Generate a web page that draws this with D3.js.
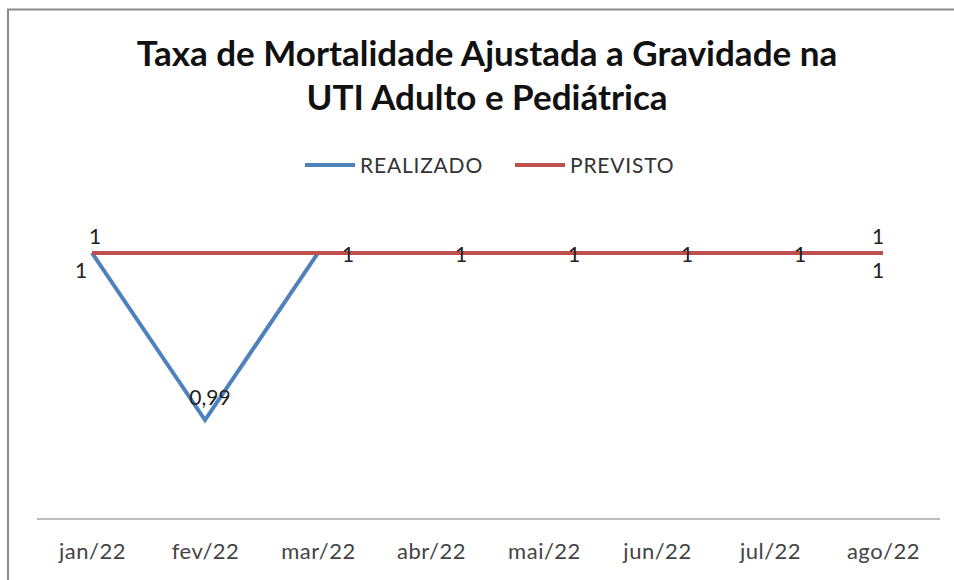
<!DOCTYPE html>
<html>
<head>
<meta charset="utf-8">
<script src="https://cdn.jsdelivr.net/npm/d3@7"></script>
<style>
  body { margin: 0; background: #fff; overflow: hidden; }
  svg { display: block; font-family: Lato, "Open Sans", sans-serif; }
</style>
</head>
<body>
<svg id="chart"></svg>
<script>
const months = ["jan/22", "fev/22", "mar/22", "abr/22", "mai/22", "jun/22", "jul/22", "ago/22"];
const realizado = [1, 0.99, 1, 1, 1, 1, 1, 1];
const previsto = [1, 1, 1, 1, 1, 1, 1, 1];
const titleLines = ["Taxa de Mortalidade Ajustada a Gravidade na", "UTI Adulto e Pediátrica"];

const width = 954;
const height = 580;
const blue = "#4f81bd";
const red = "#c0504d";

const svg = d3.select("#chart").attr("width", width).attr("height", height);

// chart frame (only left/top edges fall inside the picture)
svg.append("path")
  .attr("d", `M8,${height} V9.5 H${width}`)
  .attr("fill", "none")
  .attr("stroke", "#8c8c8c")
  .attr("stroke-width", 2);

const x = d3.scalePoint().domain(months).range([92, 883]);
const y = d3.scaleLinear().domain([0.99, 1]).range([420, 253]);

// title
svg.append("g").selectAll("text")
  .data(titleLines)
  .join("text")
  .attr("x", 487)
  .attr("y", (d, i) => 66 + i * 44)
  .attr("text-anchor", "middle")
  .style("font-size", "35px")
  .style("font-weight", "bold")
  .style("fill", "#111")
  .text(d => d);

// legend
const legend = [
  { name: "REALIZADO", color: blue, x: 305 },
  { name: "PREVISTO", color: red, x: 515 }
];
const lg = svg.append("g").selectAll("g").data(legend).join("g")
  .attr("transform", d => `translate(${d.x}, 165)`);
lg.append("line").attr("x1", 0).attr("x2", 50)
  .attr("stroke", d => d.color).attr("stroke-width", 4);
lg.append("text").attr("x", 55).attr("dy", "0.36em")
  .style("font-size", "21px").style("letter-spacing", "0.8px").style("fill", "#333")
  .text(d => d.name);

// x axis
const xAxis = d3.axisBottom(x).tickSize(0).tickPadding(24);
const ax = svg.append("g").attr("transform", "translate(0, 519)").call(xAxis);
ax.select(".domain").remove();
ax.append("line").attr("x1", 37).attr("x2", 940)
  .attr("stroke", "#bdbdbd").attr("stroke-width", 2);
ax.selectAll(".tick text")
  .style("font-size", "22px")
  .style("letter-spacing", "0.5px")
  .style("font-family", "Lato, sans-serif")
  .style("fill", "#444");

const line = d3.line().x((d, i) => x(months[i])).y(d => y(d));

svg.append("path").datum(realizado)
  .attr("d", line).attr("fill", "none")
  .attr("stroke", blue).attr("stroke-width", 4).attr("stroke-linejoin", "miter");
svg.append("path").datum(previsto)
  .attr("d", line).attr("fill", "none")
  .attr("stroke", red).attr("stroke-width", 4);

const fmt = v => d3.format(".2~f")(v).replace(".", ",");

// data labels (Excel-style placement)
const realOffsets = [[-11, 25], [5, -15], [30, 9], [30, 9], [30, 9], [30, 9], [30, 9], [-5, 25]];
svg.append("g").selectAll("text")
  .data(realizado)
  .join("text")
  .attr("x", (d, i) => x(months[i]) + realOffsets[i][0])
  .attr("y", (d, i) => y(d) + realOffsets[i][1])
  .attr("text-anchor", "middle")
  .style("font-size", "21px")
  .style("fill", "#222")
  .text(d => fmt(d));

const prevShown = [0, 7];
svg.append("g").selectAll("text")
  .data(prevShown)
  .join("text")
  .attr("x", i => x(months[i]) + (i === 0 ? 3 : -5))
  .attr("y", i => y(previsto[i]) - 9)
  .attr("text-anchor", "middle")
  .style("font-size", "21px")
  .style("fill", "#222")
  .text(i => fmt(previsto[i]));
</script>
</body>
</html>
